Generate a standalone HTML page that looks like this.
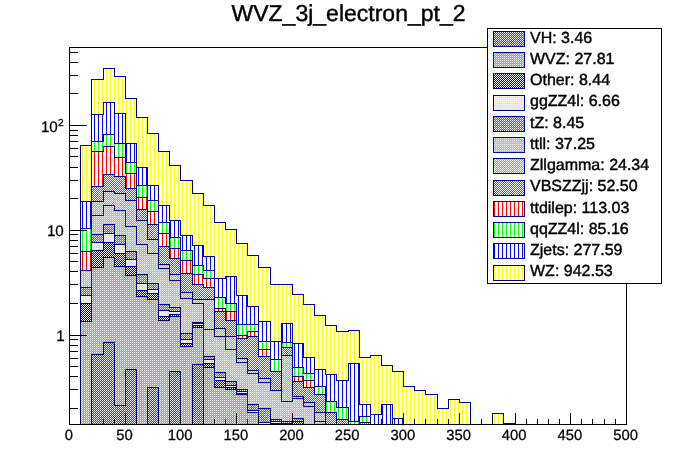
<!DOCTYPE html>
<html><head><meta charset="utf-8"><title>WVZ_3j_electron_pt_2</title>
<style>html,body{margin:0;padding:0;background:#fff}svg{display:block;will-change:transform}text{font-family:"Liberation Sans",sans-serif;fill:#000;stroke:#000;stroke-width:0.25px;text-rendering:geometricPrecision}text.h{stroke-width:0.42px}</style></head>
<body>
<svg width="696" height="472" viewBox="0 0 696 472" shape-rendering="crispEdges">
<defs>
<pattern id="cff0000" patternUnits="userSpaceOnUse" x="0" y="0" width="2" height="2"><rect x="1" y="0" width="1" height="1" fill="#ff0000"/><rect x="0" y="1" width="1" height="1" fill="#ff0000"/></pattern>
<pattern id="c00ff00" patternUnits="userSpaceOnUse" x="0" y="0" width="2" height="2"><rect x="1" y="0" width="1" height="1" fill="#00ff00"/><rect x="0" y="1" width="1" height="1" fill="#00ff00"/></pattern>
<pattern id="c0000ff" patternUnits="userSpaceOnUse" x="0" y="0" width="2" height="2"><rect x="1" y="0" width="1" height="1" fill="#0000ff"/><rect x="0" y="1" width="1" height="1" fill="#0000ff"/></pattern>
<pattern id="cffff00" patternUnits="userSpaceOnUse" x="0" y="0" width="2" height="2"><rect x="1" y="0" width="1" height="1" fill="#ffff00"/><rect x="0" y="1" width="1" height="1" fill="#ffff00"/></pattern>
<pattern id="cff00ff" patternUnits="userSpaceOnUse" x="0" y="0" width="2" height="2"><rect x="1" y="0" width="1" height="1" fill="#ff00ff"/><rect x="0" y="1" width="1" height="1" fill="#ff00ff"/></pattern>
<pattern id="c00ffff" patternUnits="userSpaceOnUse" x="0" y="0" width="2" height="2"><rect x="1" y="0" width="1" height="1" fill="#00ffff"/><rect x="0" y="1" width="1" height="1" fill="#00ffff"/></pattern>
<pattern id="c59d454" patternUnits="userSpaceOnUse" x="0" y="0" width="2" height="2"><rect x="1" y="0" width="1" height="1" fill="#59d454"/><rect x="0" y="1" width="1" height="1" fill="#59d454"/></pattern>
<pattern id="c5954d8" patternUnits="userSpaceOnUse" x="0" y="0" width="2" height="2"><rect x="1" y="0" width="1" height="1" fill="#5954d8"/><rect x="0" y="1" width="1" height="1" fill="#5954d8"/></pattern>
<pattern id="vff0000" patternUnits="userSpaceOnUse" x="0" y="0" width="4" height="4"><rect x="2" y="0" width="1" height="4" fill="#ff0000"/></pattern>
<pattern id="v00ff00" patternUnits="userSpaceOnUse" x="0" y="0" width="4" height="4"><rect x="2" y="0" width="1" height="4" fill="#00ff00"/></pattern>
<pattern id="v0000ff" patternUnits="userSpaceOnUse" x="0" y="0" width="4" height="4"><rect x="2" y="0" width="1" height="4" fill="#0000ff"/></pattern>
<pattern id="vffff00" patternUnits="userSpaceOnUse" x="0" y="0" width="4" height="4"><rect x="2" y="0" width="1" height="4" fill="#ffff00"/></pattern>
<clipPath id="fr"><rect x="69.6" y="47.2" width="556.8" height="377.6"/></clipPath>
</defs>
<rect width="696" height="472" fill="#fff"/>
<g clip-path="url(#fr)">
<path d="M80.5 430 L80.5 145.5 L91.5 145.5 L91.5 79.5 L103.5 79.5 L103.5 68.5 L114.5 68.5 L114.5 76.5 L125.5 76.5 L125.5 98.5 L136.5 98.5 L136.5 117.5 L147.5 117.5 L147.5 133.5 L158.5 133.5 L158.5 151.5 L169.5 151.5 L169.5 165.5 L180.5 165.5 L180.5 180.5 L192.5 180.5 L192.5 193.5 L203.5 193.5 L203.5 205.5 L214.5 205.5 L214.5 222.5 L225.5 222.5 L225.5 229.5 L236.5 229.5 L236.5 243.5 L247.5 243.5 L247.5 255.5 L258.5 255.5 L258.5 267.5 L270.5 267.5 L270.5 284.5 L281.5 284.5 L281.5 284.5 L292.5 284.5 L292.5 294.5 L303.5 294.5 L303.5 304.5 L314.5 304.5 L314.5 315.5 L325.5 315.5 L325.5 325.5 L336.5 325.5 L336.5 331.5 L348.5 331.5 L348.5 330.5 L359.5 330.5 L359.5 357.5 L370.5 357.5 L370.5 355.5 L381.5 355.5 L381.5 365.5 L392.5 365.5 L392.5 371.5 L403.5 371.5 L403.5 386.5 L414.5 386.5 L414.5 390.5 L425.5 390.5 L425.5 394.5 L437.5 394.5 L437.5 408.5 L448.5 408.5 L448.5 399.5 L459.5 399.5 L459.5 402.5 L470.5 402.5 L470.5 430.5 L481.5 430.5 L481.5 430.5 L492.5 430.5 L492.5 413.5 L503.5 413.5 L503.5 423.5 L515.5 423.5 L515.5 430Z" fill="#fff"/>
<path d="M80.5 430 L80.5 145.5 L91.5 145.5 L91.5 79.5 L103.5 79.5 L103.5 68.5 L114.5 68.5 L114.5 76.5 L125.5 76.5 L125.5 98.5 L136.5 98.5 L136.5 117.5 L147.5 117.5 L147.5 133.5 L158.5 133.5 L158.5 151.5 L169.5 151.5 L169.5 165.5 L180.5 165.5 L180.5 180.5 L192.5 180.5 L192.5 193.5 L203.5 193.5 L203.5 205.5 L214.5 205.5 L214.5 222.5 L225.5 222.5 L225.5 229.5 L236.5 229.5 L236.5 243.5 L247.5 243.5 L247.5 255.5 L258.5 255.5 L258.5 267.5 L270.5 267.5 L270.5 284.5 L281.5 284.5 L281.5 284.5 L292.5 284.5 L292.5 294.5 L303.5 294.5 L303.5 304.5 L314.5 304.5 L314.5 315.5 L325.5 315.5 L325.5 325.5 L336.5 325.5 L336.5 331.5 L348.5 331.5 L348.5 330.5 L359.5 330.5 L359.5 357.5 L370.5 357.5 L370.5 355.5 L381.5 355.5 L381.5 365.5 L392.5 365.5 L392.5 371.5 L403.5 371.5 L403.5 386.5 L414.5 386.5 L414.5 390.5 L425.5 390.5 L425.5 394.5 L437.5 394.5 L437.5 408.5 L448.5 408.5 L448.5 399.5 L459.5 399.5 L459.5 402.5 L470.5 402.5 L470.5 430.5 L481.5 430.5 L481.5 430.5 L492.5 430.5 L492.5 413.5 L503.5 413.5 L503.5 423.5 L515.5 423.5 L515.5 430Z" fill="url(#vffff00)"/>
<path d="M80.5 430 L80.5 145.5 L91.5 145.5 L91.5 79.5 L103.5 79.5 L103.5 68.5 L114.5 68.5 L114.5 76.5 L125.5 76.5 L125.5 98.5 L136.5 98.5 L136.5 117.5 L147.5 117.5 L147.5 133.5 L158.5 133.5 L158.5 151.5 L169.5 151.5 L169.5 165.5 L180.5 165.5 L180.5 180.5 L192.5 180.5 L192.5 193.5 L203.5 193.5 L203.5 205.5 L214.5 205.5 L214.5 222.5 L225.5 222.5 L225.5 229.5 L236.5 229.5 L236.5 243.5 L247.5 243.5 L247.5 255.5 L258.5 255.5 L258.5 267.5 L270.5 267.5 L270.5 284.5 L281.5 284.5 L281.5 284.5 L292.5 284.5 L292.5 294.5 L303.5 294.5 L303.5 304.5 L314.5 304.5 L314.5 315.5 L325.5 315.5 L325.5 325.5 L336.5 325.5 L336.5 331.5 L348.5 331.5 L348.5 330.5 L359.5 330.5 L359.5 357.5 L370.5 357.5 L370.5 355.5 L381.5 355.5 L381.5 365.5 L392.5 365.5 L392.5 371.5 L403.5 371.5 L403.5 386.5 L414.5 386.5 L414.5 390.5 L425.5 390.5 L425.5 394.5 L437.5 394.5 L437.5 408.5 L448.5 408.5 L448.5 399.5 L459.5 399.5 L459.5 402.5 L470.5 402.5 L470.5 430.5 L481.5 430.5 L481.5 430.5 L492.5 430.5 L492.5 413.5 L503.5 413.5 L503.5 423.5 L515.5 423.5 L515.5 430" fill="none" stroke="#000099" stroke-width="1"/>
<path d="M80.5 430 L80.5 201.5 L91.5 201.5 L91.5 114.5 L103.5 114.5 L103.5 102.5 L114.5 102.5 L114.5 113.5 L125.5 113.5 L125.5 143.5 L136.5 143.5 L136.5 167.5 L147.5 167.5 L147.5 185.5 L158.5 185.5 L158.5 205.5 L169.5 205.5 L169.5 220.5 L180.5 220.5 L180.5 235.5 L192.5 235.5 L192.5 245.5 L203.5 245.5 L203.5 256.5 L214.5 256.5 L214.5 278.5 L225.5 278.5 L225.5 276.5 L236.5 276.5 L236.5 295.5 L247.5 295.5 L247.5 306.5 L258.5 306.5 L258.5 321.5 L270.5 321.5 L270.5 341.5 L281.5 341.5 L281.5 323.5 L292.5 323.5 L292.5 343.5 L303.5 343.5 L303.5 357.5 L314.5 357.5 L314.5 369.5 L325.5 369.5 L325.5 374.5 L336.5 374.5 L336.5 380.5 L348.5 380.5 L348.5 363.5 L359.5 363.5 L359.5 404.5 L370.5 404.5 L370.5 414.5 L381.5 414.5 L381.5 404.5 L392.5 404.5 L392.5 418.5 L403.5 418.5 L403.5 430Z" fill="#fff"/>
<path d="M80.5 430 L80.5 201.5 L91.5 201.5 L91.5 114.5 L103.5 114.5 L103.5 102.5 L114.5 102.5 L114.5 113.5 L125.5 113.5 L125.5 143.5 L136.5 143.5 L136.5 167.5 L147.5 167.5 L147.5 185.5 L158.5 185.5 L158.5 205.5 L169.5 205.5 L169.5 220.5 L180.5 220.5 L180.5 235.5 L192.5 235.5 L192.5 245.5 L203.5 245.5 L203.5 256.5 L214.5 256.5 L214.5 278.5 L225.5 278.5 L225.5 276.5 L236.5 276.5 L236.5 295.5 L247.5 295.5 L247.5 306.5 L258.5 306.5 L258.5 321.5 L270.5 321.5 L270.5 341.5 L281.5 341.5 L281.5 323.5 L292.5 323.5 L292.5 343.5 L303.5 343.5 L303.5 357.5 L314.5 357.5 L314.5 369.5 L325.5 369.5 L325.5 374.5 L336.5 374.5 L336.5 380.5 L348.5 380.5 L348.5 363.5 L359.5 363.5 L359.5 404.5 L370.5 404.5 L370.5 414.5 L381.5 414.5 L381.5 404.5 L392.5 404.5 L392.5 418.5 L403.5 418.5 L403.5 430Z" fill="url(#v0000ff)"/>
<path d="M80.5 430 L80.5 201.5 L91.5 201.5 L91.5 114.5 L103.5 114.5 L103.5 102.5 L114.5 102.5 L114.5 113.5 L125.5 113.5 L125.5 143.5 L136.5 143.5 L136.5 167.5 L147.5 167.5 L147.5 185.5 L158.5 185.5 L158.5 205.5 L169.5 205.5 L169.5 220.5 L180.5 220.5 L180.5 235.5 L192.5 235.5 L192.5 245.5 L203.5 245.5 L203.5 256.5 L214.5 256.5 L214.5 278.5 L225.5 278.5 L225.5 276.5 L236.5 276.5 L236.5 295.5 L247.5 295.5 L247.5 306.5 L258.5 306.5 L258.5 321.5 L270.5 321.5 L270.5 341.5 L281.5 341.5 L281.5 323.5 L292.5 323.5 L292.5 343.5 L303.5 343.5 L303.5 357.5 L314.5 357.5 L314.5 369.5 L325.5 369.5 L325.5 374.5 L336.5 374.5 L336.5 380.5 L348.5 380.5 L348.5 363.5 L359.5 363.5 L359.5 404.5 L370.5 404.5 L370.5 414.5 L381.5 414.5 L381.5 404.5 L392.5 404.5 L392.5 418.5 L403.5 418.5 L403.5 430" fill="none" stroke="#000099" stroke-width="1"/>
<path d="M80.5 430 L80.5 228.5 L91.5 228.5 L91.5 141.5 L103.5 141.5 L103.5 134.5 L114.5 134.5 L114.5 143.5 L125.5 143.5 L125.5 162.5 L136.5 162.5 L136.5 185.5 L147.5 185.5 L147.5 200.5 L158.5 200.5 L158.5 222.5 L169.5 222.5 L169.5 237.5 L180.5 237.5 L180.5 250.5 L192.5 250.5 L192.5 265.5 L203.5 265.5 L203.5 270.5 L214.5 270.5 L214.5 297.5 L225.5 297.5 L225.5 303.5 L236.5 303.5 L236.5 324.5 L247.5 324.5 L247.5 324.5 L258.5 324.5 L258.5 341.5 L270.5 341.5 L270.5 359.5 L281.5 359.5 L281.5 342.5 L292.5 342.5 L292.5 367.5 L303.5 367.5 L303.5 373.5 L314.5 373.5 L314.5 386.5 L325.5 386.5 L325.5 401.5 L336.5 401.5 L336.5 407.5 L348.5 407.5 L348.5 421.5 L359.5 421.5 L359.5 416.5 L370.5 416.5 L370.5 430Z" fill="#fff"/>
<path d="M80.5 430 L80.5 228.5 L91.5 228.5 L91.5 141.5 L103.5 141.5 L103.5 134.5 L114.5 134.5 L114.5 143.5 L125.5 143.5 L125.5 162.5 L136.5 162.5 L136.5 185.5 L147.5 185.5 L147.5 200.5 L158.5 200.5 L158.5 222.5 L169.5 222.5 L169.5 237.5 L180.5 237.5 L180.5 250.5 L192.5 250.5 L192.5 265.5 L203.5 265.5 L203.5 270.5 L214.5 270.5 L214.5 297.5 L225.5 297.5 L225.5 303.5 L236.5 303.5 L236.5 324.5 L247.5 324.5 L247.5 324.5 L258.5 324.5 L258.5 341.5 L270.5 341.5 L270.5 359.5 L281.5 359.5 L281.5 342.5 L292.5 342.5 L292.5 367.5 L303.5 367.5 L303.5 373.5 L314.5 373.5 L314.5 386.5 L325.5 386.5 L325.5 401.5 L336.5 401.5 L336.5 407.5 L348.5 407.5 L348.5 421.5 L359.5 421.5 L359.5 416.5 L370.5 416.5 L370.5 430Z" fill="url(#v00ff00)"/>
<path d="M80.5 430 L80.5 228.5 L91.5 228.5 L91.5 141.5 L103.5 141.5 L103.5 134.5 L114.5 134.5 L114.5 143.5 L125.5 143.5 L125.5 162.5 L136.5 162.5 L136.5 185.5 L147.5 185.5 L147.5 200.5 L158.5 200.5 L158.5 222.5 L169.5 222.5 L169.5 237.5 L180.5 237.5 L180.5 250.5 L192.5 250.5 L192.5 265.5 L203.5 265.5 L203.5 270.5 L214.5 270.5 L214.5 297.5 L225.5 297.5 L225.5 303.5 L236.5 303.5 L236.5 324.5 L247.5 324.5 L247.5 324.5 L258.5 324.5 L258.5 341.5 L270.5 341.5 L270.5 359.5 L281.5 359.5 L281.5 342.5 L292.5 342.5 L292.5 367.5 L303.5 367.5 L303.5 373.5 L314.5 373.5 L314.5 386.5 L325.5 386.5 L325.5 401.5 L336.5 401.5 L336.5 407.5 L348.5 407.5 L348.5 421.5 L359.5 421.5 L359.5 416.5 L370.5 416.5 L370.5 430" fill="none" stroke="#000099" stroke-width="1"/>
<path d="M80.5 430 L80.5 251.5 L91.5 251.5 L91.5 151.5 L103.5 151.5 L103.5 146.5 L114.5 146.5 L114.5 157.5 L125.5 157.5 L125.5 173.5 L136.5 173.5 L136.5 197.5 L147.5 197.5 L147.5 211.5 L158.5 211.5 L158.5 233.5 L169.5 233.5 L169.5 248.5 L180.5 248.5 L180.5 260.5 L192.5 260.5 L192.5 274.5 L203.5 274.5 L203.5 278.5 L214.5 278.5 L214.5 308.5 L225.5 308.5 L225.5 311.5 L236.5 311.5 L236.5 335.5 L247.5 335.5 L247.5 331.5 L258.5 331.5 L258.5 349.5 L270.5 349.5 L270.5 371.5 L281.5 371.5 L281.5 347.5 L292.5 347.5 L292.5 376.5 L303.5 376.5 L303.5 380.5 L314.5 380.5 L314.5 394.5 L325.5 394.5 L325.5 412.5 L336.5 412.5 L336.5 419.5 L348.5 419.5 L348.5 430.5 L359.5 430.5 L359.5 422.5 L370.5 422.5 L370.5 430Z" fill="#fff"/>
<path d="M80.5 430 L80.5 251.5 L91.5 251.5 L91.5 151.5 L103.5 151.5 L103.5 146.5 L114.5 146.5 L114.5 157.5 L125.5 157.5 L125.5 173.5 L136.5 173.5 L136.5 197.5 L147.5 197.5 L147.5 211.5 L158.5 211.5 L158.5 233.5 L169.5 233.5 L169.5 248.5 L180.5 248.5 L180.5 260.5 L192.5 260.5 L192.5 274.5 L203.5 274.5 L203.5 278.5 L214.5 278.5 L214.5 308.5 L225.5 308.5 L225.5 311.5 L236.5 311.5 L236.5 335.5 L247.5 335.5 L247.5 331.5 L258.5 331.5 L258.5 349.5 L270.5 349.5 L270.5 371.5 L281.5 371.5 L281.5 347.5 L292.5 347.5 L292.5 376.5 L303.5 376.5 L303.5 380.5 L314.5 380.5 L314.5 394.5 L325.5 394.5 L325.5 412.5 L336.5 412.5 L336.5 419.5 L348.5 419.5 L348.5 430.5 L359.5 430.5 L359.5 422.5 L370.5 422.5 L370.5 430Z" fill="url(#vff0000)"/>
<path d="M80.5 430 L80.5 251.5 L91.5 251.5 L91.5 151.5 L103.5 151.5 L103.5 146.5 L114.5 146.5 L114.5 157.5 L125.5 157.5 L125.5 173.5 L136.5 173.5 L136.5 197.5 L147.5 197.5 L147.5 211.5 L158.5 211.5 L158.5 233.5 L169.5 233.5 L169.5 248.5 L180.5 248.5 L180.5 260.5 L192.5 260.5 L192.5 274.5 L203.5 274.5 L203.5 278.5 L214.5 278.5 L214.5 308.5 L225.5 308.5 L225.5 311.5 L236.5 311.5 L236.5 335.5 L247.5 335.5 L247.5 331.5 L258.5 331.5 L258.5 349.5 L270.5 349.5 L270.5 371.5 L281.5 371.5 L281.5 347.5 L292.5 347.5 L292.5 376.5 L303.5 376.5 L303.5 380.5 L314.5 380.5 L314.5 394.5 L325.5 394.5 L325.5 412.5 L336.5 412.5 L336.5 419.5 L348.5 419.5 L348.5 430.5 L359.5 430.5 L359.5 422.5 L370.5 422.5 L370.5 430" fill="none" stroke="#000099" stroke-width="1"/>
<path d="M80.5 430 L80.5 270.5 L91.5 270.5 L91.5 186.5 L103.5 186.5 L103.5 174.5 L114.5 174.5 L114.5 176.5 L125.5 176.5 L125.5 188.5 L136.5 188.5 L136.5 209.5 L147.5 209.5 L147.5 224.5 L158.5 224.5 L158.5 246.5 L169.5 246.5 L169.5 258.5 L180.5 258.5 L180.5 273.5 L192.5 273.5 L192.5 284.5 L203.5 284.5 L203.5 287.5 L214.5 287.5 L214.5 311.5 L225.5 311.5 L225.5 320.5 L236.5 320.5 L236.5 338.5 L247.5 338.5 L247.5 336.5 L258.5 336.5 L258.5 356.5 L270.5 356.5 L270.5 371.5 L281.5 371.5 L281.5 347.5 L292.5 347.5 L292.5 381.5 L303.5 381.5 L303.5 387.5 L314.5 387.5 L314.5 394.5 L325.5 394.5 L325.5 412.5 L336.5 412.5 L336.5 419.5 L348.5 419.5 L348.5 430.5 L359.5 430.5 L359.5 422.5 L370.5 422.5 L370.5 430Z" fill="#fff"/>
<path d="M80.5 430 L80.5 270.5 L91.5 270.5 L91.5 186.5 L103.5 186.5 L103.5 174.5 L114.5 174.5 L114.5 176.5 L125.5 176.5 L125.5 188.5 L136.5 188.5 L136.5 209.5 L147.5 209.5 L147.5 224.5 L158.5 224.5 L158.5 246.5 L169.5 246.5 L169.5 258.5 L180.5 258.5 L180.5 273.5 L192.5 273.5 L192.5 284.5 L203.5 284.5 L203.5 287.5 L214.5 287.5 L214.5 311.5 L225.5 311.5 L225.5 320.5 L236.5 320.5 L236.5 338.5 L247.5 338.5 L247.5 336.5 L258.5 336.5 L258.5 356.5 L270.5 356.5 L270.5 371.5 L281.5 371.5 L281.5 347.5 L292.5 347.5 L292.5 381.5 L303.5 381.5 L303.5 387.5 L314.5 387.5 L314.5 394.5 L325.5 394.5 L325.5 412.5 L336.5 412.5 L336.5 419.5 L348.5 419.5 L348.5 430.5 L359.5 430.5 L359.5 422.5 L370.5 422.5 L370.5 430Z" fill="url(#c5954d8)"/>
<path d="M80.5 430 L80.5 270.5 L91.5 270.5 L91.5 186.5 L103.5 186.5 L103.5 174.5 L114.5 174.5 L114.5 176.5 L125.5 176.5 L125.5 188.5 L136.5 188.5 L136.5 209.5 L147.5 209.5 L147.5 224.5 L158.5 224.5 L158.5 246.5 L169.5 246.5 L169.5 258.5 L180.5 258.5 L180.5 273.5 L192.5 273.5 L192.5 284.5 L203.5 284.5 L203.5 287.5 L214.5 287.5 L214.5 311.5 L225.5 311.5 L225.5 320.5 L236.5 320.5 L236.5 338.5 L247.5 338.5 L247.5 336.5 L258.5 336.5 L258.5 356.5 L270.5 356.5 L270.5 371.5 L281.5 371.5 L281.5 347.5 L292.5 347.5 L292.5 381.5 L303.5 381.5 L303.5 387.5 L314.5 387.5 L314.5 394.5 L325.5 394.5 L325.5 412.5 L336.5 412.5 L336.5 419.5 L348.5 419.5 L348.5 430.5 L359.5 430.5 L359.5 422.5 L370.5 422.5 L370.5 430" fill="none" stroke="#000099" stroke-width="1"/>
<path d="M80.5 430 L80.5 270.5 L91.5 270.5 L91.5 201.5 L103.5 201.5 L103.5 191.5 L114.5 191.5 L114.5 193.5 L125.5 193.5 L125.5 200.5 L136.5 200.5 L136.5 220.5 L147.5 220.5 L147.5 239.5 L158.5 239.5 L158.5 264.5 L169.5 264.5 L169.5 274.5 L180.5 274.5 L180.5 292.5 L192.5 292.5 L192.5 299.5 L203.5 299.5 L203.5 299.5 L214.5 299.5 L214.5 328.5 L225.5 328.5 L225.5 336.5 L236.5 336.5 L236.5 358.5 L247.5 358.5 L247.5 370.5 L258.5 370.5 L258.5 378.5 L270.5 378.5 L270.5 390.5 L281.5 390.5 L281.5 355.5 L292.5 355.5 L292.5 396.5 L303.5 396.5 L303.5 402.5 L314.5 402.5 L314.5 412.5 L325.5 412.5 L325.5 430Z" fill="#fff"/>
<path d="M80.5 430 L80.5 270.5 L91.5 270.5 L91.5 201.5 L103.5 201.5 L103.5 191.5 L114.5 191.5 L114.5 193.5 L125.5 193.5 L125.5 200.5 L136.5 200.5 L136.5 220.5 L147.5 220.5 L147.5 239.5 L158.5 239.5 L158.5 264.5 L169.5 264.5 L169.5 274.5 L180.5 274.5 L180.5 292.5 L192.5 292.5 L192.5 299.5 L203.5 299.5 L203.5 299.5 L214.5 299.5 L214.5 328.5 L225.5 328.5 L225.5 336.5 L236.5 336.5 L236.5 358.5 L247.5 358.5 L247.5 370.5 L258.5 370.5 L258.5 378.5 L270.5 378.5 L270.5 390.5 L281.5 390.5 L281.5 355.5 L292.5 355.5 L292.5 396.5 L303.5 396.5 L303.5 402.5 L314.5 402.5 L314.5 412.5 L325.5 412.5 L325.5 430Z" fill="url(#c59d454)"/>
<path d="M80.5 430 L80.5 270.5 L91.5 270.5 L91.5 201.5 L103.5 201.5 L103.5 191.5 L114.5 191.5 L114.5 193.5 L125.5 193.5 L125.5 200.5 L136.5 200.5 L136.5 220.5 L147.5 220.5 L147.5 239.5 L158.5 239.5 L158.5 264.5 L169.5 264.5 L169.5 274.5 L180.5 274.5 L180.5 292.5 L192.5 292.5 L192.5 299.5 L203.5 299.5 L203.5 299.5 L214.5 299.5 L214.5 328.5 L225.5 328.5 L225.5 336.5 L236.5 336.5 L236.5 358.5 L247.5 358.5 L247.5 370.5 L258.5 370.5 L258.5 378.5 L270.5 378.5 L270.5 390.5 L281.5 390.5 L281.5 355.5 L292.5 355.5 L292.5 396.5 L303.5 396.5 L303.5 402.5 L314.5 402.5 L314.5 412.5 L325.5 412.5 L325.5 430" fill="none" stroke="#000099" stroke-width="1"/>
<path d="M80.5 430 L80.5 270.5 L91.5 270.5 L91.5 215.5 L103.5 215.5 L103.5 205.5 L114.5 205.5 L114.5 210.5 L125.5 210.5 L125.5 226.5 L136.5 226.5 L136.5 244.5 L147.5 244.5 L147.5 253.5 L158.5 253.5 L158.5 268.5 L169.5 268.5 L169.5 280.5 L180.5 280.5 L180.5 298.5 L192.5 298.5 L192.5 303.5 L203.5 303.5 L203.5 329.5 L214.5 329.5 L214.5 336.5 L225.5 336.5 L225.5 349.5 L236.5 349.5 L236.5 362.5 L247.5 362.5 L247.5 373.5 L258.5 373.5 L258.5 382.5 L270.5 382.5 L270.5 390.5 L281.5 390.5 L281.5 401.5 L292.5 401.5 L292.5 398.5 L303.5 398.5 L303.5 406.5 L314.5 406.5 L314.5 421.5 L325.5 421.5 L325.5 430Z" fill="#fff"/>
<path d="M80.5 430 L80.5 270.5 L91.5 270.5 L91.5 215.5 L103.5 215.5 L103.5 205.5 L114.5 205.5 L114.5 210.5 L125.5 210.5 L125.5 226.5 L136.5 226.5 L136.5 244.5 L147.5 244.5 L147.5 253.5 L158.5 253.5 L158.5 268.5 L169.5 268.5 L169.5 280.5 L180.5 280.5 L180.5 298.5 L192.5 298.5 L192.5 303.5 L203.5 303.5 L203.5 329.5 L214.5 329.5 L214.5 336.5 L225.5 336.5 L225.5 349.5 L236.5 349.5 L236.5 362.5 L247.5 362.5 L247.5 373.5 L258.5 373.5 L258.5 382.5 L270.5 382.5 L270.5 390.5 L281.5 390.5 L281.5 401.5 L292.5 401.5 L292.5 398.5 L303.5 398.5 L303.5 406.5 L314.5 406.5 L314.5 421.5 L325.5 421.5 L325.5 430Z" fill="url(#c00ffff)"/>
<path d="M80.5 430 L80.5 270.5 L91.5 270.5 L91.5 215.5 L103.5 215.5 L103.5 205.5 L114.5 205.5 L114.5 210.5 L125.5 210.5 L125.5 226.5 L136.5 226.5 L136.5 244.5 L147.5 244.5 L147.5 253.5 L158.5 253.5 L158.5 268.5 L169.5 268.5 L169.5 280.5 L180.5 280.5 L180.5 298.5 L192.5 298.5 L192.5 303.5 L203.5 303.5 L203.5 329.5 L214.5 329.5 L214.5 336.5 L225.5 336.5 L225.5 349.5 L236.5 349.5 L236.5 362.5 L247.5 362.5 L247.5 373.5 L258.5 373.5 L258.5 382.5 L270.5 382.5 L270.5 390.5 L281.5 390.5 L281.5 401.5 L292.5 401.5 L292.5 398.5 L303.5 398.5 L303.5 406.5 L314.5 406.5 L314.5 421.5 L325.5 421.5 L325.5 430" fill="none" stroke="#000099" stroke-width="1"/>
<path d="M80.5 430 L80.5 287.5 L91.5 287.5 L91.5 234.5 L103.5 234.5 L103.5 224.5 L114.5 224.5 L114.5 235.5 L125.5 235.5 L125.5 251.5 L136.5 251.5 L136.5 274.5 L147.5 274.5 L147.5 283.5 L158.5 283.5 L158.5 304.5 L169.5 304.5 L169.5 307.5 L180.5 307.5 L180.5 333.5 L192.5 333.5 L192.5 322.5 L203.5 322.5 L203.5 356.5 L214.5 356.5 L214.5 372.5 L225.5 372.5 L225.5 381.5 L236.5 381.5 L236.5 389.5 L247.5 389.5 L247.5 404.5 L258.5 404.5 L258.5 408.5 L270.5 408.5 L270.5 419.5 L281.5 419.5 L281.5 421.5 L292.5 421.5 L292.5 418.5 L303.5 418.5 L303.5 430Z" fill="#fff"/>
<path d="M80.5 430 L80.5 287.5 L91.5 287.5 L91.5 234.5 L103.5 234.5 L103.5 224.5 L114.5 224.5 L114.5 235.5 L125.5 235.5 L125.5 251.5 L136.5 251.5 L136.5 274.5 L147.5 274.5 L147.5 283.5 L158.5 283.5 L158.5 304.5 L169.5 304.5 L169.5 307.5 L180.5 307.5 L180.5 333.5 L192.5 333.5 L192.5 322.5 L203.5 322.5 L203.5 356.5 L214.5 356.5 L214.5 372.5 L225.5 372.5 L225.5 381.5 L236.5 381.5 L236.5 389.5 L247.5 389.5 L247.5 404.5 L258.5 404.5 L258.5 408.5 L270.5 408.5 L270.5 419.5 L281.5 419.5 L281.5 421.5 L292.5 421.5 L292.5 418.5 L303.5 418.5 L303.5 430Z" fill="url(#cff00ff)"/>
<path d="M80.5 430 L80.5 287.5 L91.5 287.5 L91.5 234.5 L103.5 234.5 L103.5 224.5 L114.5 224.5 L114.5 235.5 L125.5 235.5 L125.5 251.5 L136.5 251.5 L136.5 274.5 L147.5 274.5 L147.5 283.5 L158.5 283.5 L158.5 304.5 L169.5 304.5 L169.5 307.5 L180.5 307.5 L180.5 333.5 L192.5 333.5 L192.5 322.5 L203.5 322.5 L203.5 356.5 L214.5 356.5 L214.5 372.5 L225.5 372.5 L225.5 381.5 L236.5 381.5 L236.5 389.5 L247.5 389.5 L247.5 404.5 L258.5 404.5 L258.5 408.5 L270.5 408.5 L270.5 419.5 L281.5 419.5 L281.5 421.5 L292.5 421.5 L292.5 418.5 L303.5 418.5 L303.5 430" fill="none" stroke="#000099" stroke-width="1"/>
<path d="M80.5 430 L80.5 295.5 L91.5 295.5 L91.5 242.5 L103.5 242.5 L103.5 233.5 L114.5 233.5 L114.5 244.5 L125.5 244.5 L125.5 259.5 L136.5 259.5 L136.5 283.5 L147.5 283.5 L147.5 289.5 L158.5 289.5 L158.5 310.5 L169.5 310.5 L169.5 311.5 L180.5 311.5 L180.5 339.5 L192.5 339.5 L192.5 323.5 L203.5 323.5 L203.5 359.5 L214.5 359.5 L214.5 377.5 L225.5 377.5 L225.5 385.5 L236.5 385.5 L236.5 391.5 L247.5 391.5 L247.5 410.5 L258.5 410.5 L258.5 422.5 L270.5 422.5 L270.5 421.5 L281.5 421.5 L281.5 423.5 L292.5 423.5 L292.5 421.5 L303.5 421.5 L303.5 430Z" fill="#fff"/>
<path d="M80.5 430 L80.5 295.5 L91.5 295.5 L91.5 242.5 L103.5 242.5 L103.5 233.5 L114.5 233.5 L114.5 244.5 L125.5 244.5 L125.5 259.5 L136.5 259.5 L136.5 283.5 L147.5 283.5 L147.5 289.5 L158.5 289.5 L158.5 310.5 L169.5 310.5 L169.5 311.5 L180.5 311.5 L180.5 339.5 L192.5 339.5 L192.5 323.5 L203.5 323.5 L203.5 359.5 L214.5 359.5 L214.5 377.5 L225.5 377.5 L225.5 385.5 L236.5 385.5 L236.5 391.5 L247.5 391.5 L247.5 410.5 L258.5 410.5 L258.5 422.5 L270.5 422.5 L270.5 421.5 L281.5 421.5 L281.5 423.5 L292.5 423.5 L292.5 421.5 L303.5 421.5 L303.5 430Z" fill="url(#cffff00)"/>
<path d="M80.5 430 L80.5 295.5 L91.5 295.5 L91.5 242.5 L103.5 242.5 L103.5 233.5 L114.5 233.5 L114.5 244.5 L125.5 244.5 L125.5 259.5 L136.5 259.5 L136.5 283.5 L147.5 283.5 L147.5 289.5 L158.5 289.5 L158.5 310.5 L169.5 310.5 L169.5 311.5 L180.5 311.5 L180.5 339.5 L192.5 339.5 L192.5 323.5 L203.5 323.5 L203.5 359.5 L214.5 359.5 L214.5 377.5 L225.5 377.5 L225.5 385.5 L236.5 385.5 L236.5 391.5 L247.5 391.5 L247.5 410.5 L258.5 410.5 L258.5 422.5 L270.5 422.5 L270.5 421.5 L281.5 421.5 L281.5 423.5 L292.5 423.5 L292.5 421.5 L303.5 421.5 L303.5 430" fill="none" stroke="#000099" stroke-width="1"/>
<path d="M80.5 430 L80.5 303.5 L91.5 303.5 L91.5 250.5 L103.5 250.5 L103.5 242.5 L114.5 242.5 L114.5 253.5 L125.5 253.5 L125.5 266.5 L136.5 266.5 L136.5 290.5 L147.5 290.5 L147.5 293.5 L158.5 293.5 L158.5 316.5 L169.5 316.5 L169.5 314.5 L180.5 314.5 L180.5 343.5 L192.5 343.5 L192.5 325.5 L203.5 325.5 L203.5 363.5 L214.5 363.5 L214.5 380.5 L225.5 380.5 L225.5 387.5 L236.5 387.5 L236.5 393.5 L247.5 393.5 L247.5 412.5 L258.5 412.5 L258.5 430.5 L270.5 430.5 L270.5 423.5 L281.5 423.5 L281.5 430.5 L292.5 430.5 L292.5 421.5 L303.5 421.5 L303.5 430Z" fill="#fff"/>
<path d="M80.5 430 L80.5 303.5 L91.5 303.5 L91.5 250.5 L103.5 250.5 L103.5 242.5 L114.5 242.5 L114.5 253.5 L125.5 253.5 L125.5 266.5 L136.5 266.5 L136.5 290.5 L147.5 290.5 L147.5 293.5 L158.5 293.5 L158.5 316.5 L169.5 316.5 L169.5 314.5 L180.5 314.5 L180.5 343.5 L192.5 343.5 L192.5 325.5 L203.5 325.5 L203.5 363.5 L214.5 363.5 L214.5 380.5 L225.5 380.5 L225.5 387.5 L236.5 387.5 L236.5 393.5 L247.5 393.5 L247.5 412.5 L258.5 412.5 L258.5 430.5 L270.5 430.5 L270.5 423.5 L281.5 423.5 L281.5 430.5 L292.5 430.5 L292.5 421.5 L303.5 421.5 L303.5 430Z" fill="url(#c0000ff)"/>
<path d="M80.5 430 L80.5 303.5 L91.5 303.5 L91.5 250.5 L103.5 250.5 L103.5 242.5 L114.5 242.5 L114.5 253.5 L125.5 253.5 L125.5 266.5 L136.5 266.5 L136.5 290.5 L147.5 290.5 L147.5 293.5 L158.5 293.5 L158.5 316.5 L169.5 316.5 L169.5 314.5 L180.5 314.5 L180.5 343.5 L192.5 343.5 L192.5 325.5 L203.5 325.5 L203.5 363.5 L214.5 363.5 L214.5 380.5 L225.5 380.5 L225.5 387.5 L236.5 387.5 L236.5 393.5 L247.5 393.5 L247.5 412.5 L258.5 412.5 L258.5 430.5 L270.5 430.5 L270.5 423.5 L281.5 423.5 L281.5 430.5 L292.5 430.5 L292.5 421.5 L303.5 421.5 L303.5 430" fill="none" stroke="#000099" stroke-width="1"/>
<path d="M80.5 430 L80.5 321.5 L91.5 321.5 L91.5 267.5 L103.5 267.5 L103.5 257.5 L114.5 257.5 L114.5 266.5 L125.5 266.5 L125.5 275.5 L136.5 275.5 L136.5 296.5 L147.5 296.5 L147.5 299.5 L158.5 299.5 L158.5 320.5 L169.5 320.5 L169.5 316.5 L180.5 316.5 L180.5 346.5 L192.5 346.5 L192.5 327.5 L203.5 327.5 L203.5 367.5 L214.5 367.5 L214.5 387.5 L225.5 387.5 L225.5 389.5 L236.5 389.5 L236.5 394.5 L247.5 394.5 L247.5 412.5 L258.5 412.5 L258.5 430Z" fill="#fff"/>
<path d="M80.5 430 L80.5 321.5 L91.5 321.5 L91.5 267.5 L103.5 267.5 L103.5 257.5 L114.5 257.5 L114.5 266.5 L125.5 266.5 L125.5 275.5 L136.5 275.5 L136.5 296.5 L147.5 296.5 L147.5 299.5 L158.5 299.5 L158.5 320.5 L169.5 320.5 L169.5 316.5 L180.5 316.5 L180.5 346.5 L192.5 346.5 L192.5 327.5 L203.5 327.5 L203.5 367.5 L214.5 367.5 L214.5 387.5 L225.5 387.5 L225.5 389.5 L236.5 389.5 L236.5 394.5 L247.5 394.5 L247.5 412.5 L258.5 412.5 L258.5 430Z" fill="url(#c00ff00)"/>
<path d="M80.5 430 L80.5 321.5 L91.5 321.5 L91.5 267.5 L103.5 267.5 L103.5 257.5 L114.5 257.5 L114.5 266.5 L125.5 266.5 L125.5 275.5 L136.5 275.5 L136.5 296.5 L147.5 296.5 L147.5 299.5 L158.5 299.5 L158.5 320.5 L169.5 320.5 L169.5 316.5 L180.5 316.5 L180.5 346.5 L192.5 346.5 L192.5 327.5 L203.5 327.5 L203.5 367.5 L214.5 367.5 L214.5 387.5 L225.5 387.5 L225.5 389.5 L236.5 389.5 L236.5 394.5 L247.5 394.5 L247.5 412.5 L258.5 412.5 L258.5 430" fill="none" stroke="#000099" stroke-width="1"/>
<path d="M91.5 430 L91.5 354.5 L103.5 354.5 L103.5 342.5 L114.5 342.5 L114.5 405.5 L125.5 405.5 L125.5 369.5 L136.5 369.5 L136.5 430.5 L147.5 430.5 L147.5 387.5 L158.5 387.5 L158.5 430.5 L169.5 430.5 L169.5 371.5 L180.5 371.5 L180.5 430.5 L192.5 430.5 L192.5 364.5 L203.5 364.5 L203.5 430Z" fill="#fff"/>
<path d="M91.5 430 L91.5 354.5 L103.5 354.5 L103.5 342.5 L114.5 342.5 L114.5 405.5 L125.5 405.5 L125.5 369.5 L136.5 369.5 L136.5 430.5 L147.5 430.5 L147.5 387.5 L158.5 387.5 L158.5 430.5 L169.5 430.5 L169.5 371.5 L180.5 371.5 L180.5 430.5 L192.5 430.5 L192.5 364.5 L203.5 364.5 L203.5 430Z" fill="url(#cff0000)"/>
<path d="M91.5 430 L91.5 354.5 L103.5 354.5 L103.5 342.5 L114.5 342.5 L114.5 405.5 L125.5 405.5 L125.5 369.5 L136.5 369.5 L136.5 430.5 L147.5 430.5 L147.5 387.5 L158.5 387.5 L158.5 430.5 L169.5 430.5 L169.5 371.5 L180.5 371.5 L180.5 430.5 L192.5 430.5 L192.5 364.5 L203.5 364.5 L203.5 430" fill="none" stroke="#000099" stroke-width="1"/>
</g>
<rect x="69.5" y="47.5" width="557.0" height="377.0" fill="none" stroke="#000" stroke-width="1"/>
<path d="M69.5 424.5 V413 M80.5 424.5 V419 M91.5 424.5 V419 M103.5 424.5 V419 M114.5 424.5 V419 M125.5 424.5 V413 M136.5 424.5 V419 M147.5 424.5 V419 M158.5 424.5 V419 M169.5 424.5 V419 M180.5 424.5 V413 M192.5 424.5 V419 M203.5 424.5 V419 M214.5 424.5 V419 M225.5 424.5 V419 M236.5 424.5 V413 M247.5 424.5 V419 M258.5 424.5 V419 M270.5 424.5 V419 M281.5 424.5 V419 M292.5 424.5 V413 M303.5 424.5 V419 M314.5 424.5 V419 M325.5 424.5 V419 M336.5 424.5 V419 M348.5 424.5 V413 M359.5 424.5 V419 M370.5 424.5 V419 M381.5 424.5 V419 M392.5 424.5 V419 M403.5 424.5 V413 M414.5 424.5 V419 M425.5 424.5 V419 M437.5 424.5 V419 M448.5 424.5 V419 M459.5 424.5 V413 M470.5 424.5 V419 M481.5 424.5 V419 M492.5 424.5 V419 M503.5 424.5 V419 M515.5 424.5 V413 M526.5 424.5 V419 M537.5 424.5 V419 M548.5 424.5 V419 M559.5 424.5 V419 M570.5 424.5 V413 M581.5 424.5 V419 M592.5 424.5 V419 M604.5 424.5 V419 M615.5 424.5 V419 M626.5 424.5 V413 M69.5 408.5 H78 M69.5 389.5 H78 M69.5 376.5 H78 M69.5 366.5 H78 M69.5 358.5 H78 M69.5 351.5 H78 M69.5 345.5 H78 M69.5 339.5 H78 M69.5 335.5 H87 M69.5 303.5 H78 M69.5 284.5 H78 M69.5 271.5 H78 M69.5 261.5 H78 M69.5 253.5 H78 M69.5 246.5 H78 M69.5 240.5 H78 M69.5 234.5 H78 M69.5 230.5 H87 M69.5 198.5 H78 M69.5 180.5 H78 M69.5 167.5 H78 M69.5 156.5 H78 M69.5 148.5 H78 M69.5 141.5 H78 M69.5 135.5 H78 M69.5 130.5 H78 M69.5 125.5 H87 M69.5 93.5 H78 M69.5 75.5 H78 M69.5 62.5 H78 M69.5 52.5 H78" fill="none" stroke="#000" stroke-width="1"/>
<text x="68.8" y="440.2" font-size="14.8" text-anchor="middle">0</text>
<text x="124.5" y="440.2" font-size="14.8" text-anchor="middle">50</text>
<text x="180.2" y="440.2" font-size="14.8" text-anchor="middle">100</text>
<text x="235.8" y="440.2" font-size="14.8" text-anchor="middle">150</text>
<text x="291.5" y="440.2" font-size="14.8" text-anchor="middle">200</text>
<text x="347.2" y="440.2" font-size="14.8" text-anchor="middle">250</text>
<text x="402.9" y="440.2" font-size="14.8" text-anchor="middle">300</text>
<text x="458.6" y="440.2" font-size="14.8" text-anchor="middle">350</text>
<text x="514.2" y="440.2" font-size="14.8" text-anchor="middle">400</text>
<text x="569.9" y="440.2" font-size="14.8" text-anchor="middle">450</text>
<text x="625.6" y="440.2" font-size="14.8" text-anchor="middle">500</text>
<text x="64.8" y="340.8" font-size="15.2" text-anchor="end">1</text>
<text x="63.8" y="235.9" font-size="15.2" text-anchor="end">10</text>
<text x="57.8" y="132" font-size="15.2" text-anchor="end">10</text><text x="58" y="126.2" font-size="10.2" text-anchor="start">2</text>
<text x="348.5" y="21.3" font-size="23" text-anchor="middle" class="h">WVZ_3j_electron_pt_2</text>
<rect x="487.5" y="28.5" width="174.0" height="255.0" fill="#fff" stroke="#000" stroke-width="1"/>
<rect x="493.5" y="31.5" width="31.0" height="15.0" fill="url(#cff0000)" stroke="#000099" stroke-width="1"/>
<text x="530" y="42.6" font-size="16" class="h">VH: 3.46</text>
<rect x="493.5" y="52.5" width="31.0" height="15.0" fill="url(#c00ff00)" stroke="#000099" stroke-width="1"/>
<text x="530" y="63.9" font-size="16" class="h">WVZ: 27.81</text>
<rect x="493.5" y="73.5" width="31.0" height="15.0" fill="url(#c0000ff)" stroke="#000099" stroke-width="1"/>
<text x="530" y="85.1" font-size="16" class="h">Other: 8.44</text>
<rect x="493.5" y="95.5" width="31.0" height="15.0" fill="url(#cffff00)" stroke="#000099" stroke-width="1"/>
<text x="530" y="106.3" font-size="16" class="h">ggZZ4l: 6.66</text>
<rect x="493.5" y="116.5" width="31.0" height="15.0" fill="url(#cff00ff)" stroke="#000099" stroke-width="1"/>
<text x="530" y="127.6" font-size="16" class="h">tZ: 8.45</text>
<rect x="493.5" y="137.5" width="31.0" height="15.0" fill="url(#c00ffff)" stroke="#000099" stroke-width="1"/>
<text x="530" y="148.8" font-size="16" class="h">ttll: 37.25</text>
<rect x="493.5" y="158.5" width="31.0" height="15.0" fill="url(#c59d454)" stroke="#000099" stroke-width="1"/>
<text x="530" y="170.1" font-size="16" class="h">Zllgamma: 24.34</text>
<rect x="493.5" y="180.5" width="31.0" height="15.0" fill="url(#c5954d8)" stroke="#000099" stroke-width="1"/>
<text x="530" y="191.3" font-size="16" class="h">VBSZZjj: 52.50</text>
<rect x="493.5" y="201.5" width="31.0" height="15.0" fill="url(#vff0000)" stroke="#000099" stroke-width="1"/>
<text x="530" y="212.6" font-size="16" class="h">ttdilep: 113.03</text>
<rect x="493.5" y="222.5" width="31.0" height="15.0" fill="url(#v00ff00)" stroke="#000099" stroke-width="1"/>
<text x="530" y="233.8" font-size="16" class="h">qqZZ4l: 85.16</text>
<rect x="493.5" y="243.5" width="31.0" height="15.0" fill="url(#v0000ff)" stroke="#000099" stroke-width="1"/>
<text x="530" y="255" font-size="16" class="h">Zjets: 277.59</text>
<rect x="493.5" y="265.5" width="31.0" height="15.0" fill="url(#vffff00)" stroke="#000099" stroke-width="1"/>
<text x="530" y="276.3" font-size="16" class="h">WZ: 942.53</text>
</svg></body></html>
